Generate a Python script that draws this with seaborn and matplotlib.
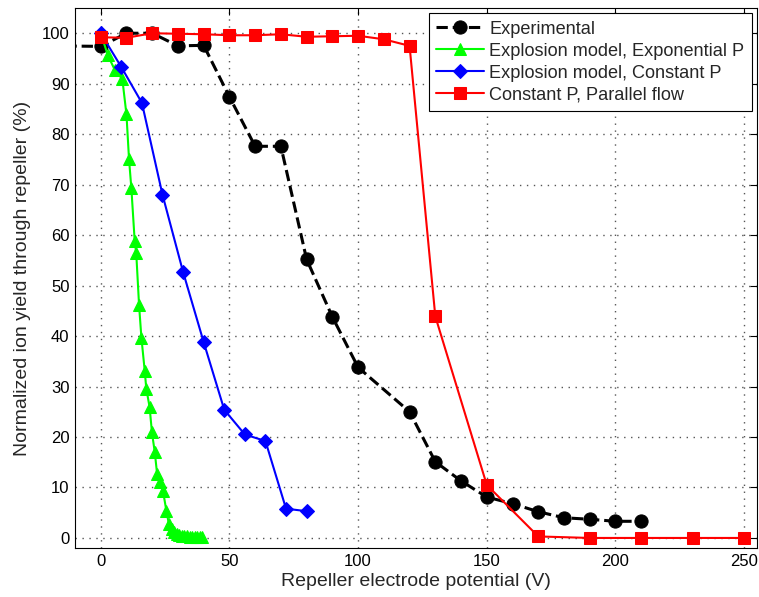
import matplotlib
matplotlib.use("Agg")
import matplotlib.pyplot as plt
import seaborn as sns
import pandas as pd

# Data
exp_x = [-20, 0, 10, 20, 30, 40, 50, 60, 70, 80, 90, 100, 120, 130, 140, 150, 160, 170, 180, 190, 200, 210]
exp_y = [97.5, 97.4, 100, 100, 97.5, 97.6, 87.4, 77.6, 77.6, 55.2, 43.8, 33.8, 25.0, 15.1, 11.3, 8.1, 6.8, 5.2, 4.0, 3.7, 3.3, 3.3]

expo_x = [0, 2.8, 5.4, 8.4, 10, 11, 11.9, 13.2, 13.8, 14.9, 15.8, 17.1, 17.7, 19, 19.9, 21, 21.9, 22.9,
          24.2, 25.5, 26.5, 27.5, 28.5, 29.5, 30.5, 31.5, 32.5, 33.5, 34.5, 35.5, 36.5, 37.5, 38.5, 39.5]
expo_y = [100, 95.6, 92.8, 90.9, 83.9, 75.0, 69.3, 58.8, 56.4, 46.1, 39.7, 33.1, 29.6, 25.9, 20.9, 17.0, 12.7, 11.0,
          9.3, 5.4, 2.7, 1.8, 1.2, 0.8, 0.6, 0.4, 0.3, 0.3, 0.2, 0.2, 0.2, 0.2, 0.2, 0.2]

const_x = [0, 8, 16, 24, 32, 40, 48, 56, 64, 72, 80]
const_y = [100, 93.3, 86.2, 68.0, 52.7, 38.8, 25.4, 20.5, 19.2, 5.8, 5.3]

par_x = [0, 10, 20, 30, 40, 50, 60, 70, 80, 90, 100, 110, 120, 130, 150, 170, 190, 210, 230, 250]
par_y = [99.2, 99.1, 100, 99.9, 99.8, 99.6, 99.6, 99.8, 99.3, 99.4, 99.5, 98.8, 97.5, 43.9, 10.5, 0.3, 0.0, 0.0, 0.0, 0.0]

labels = ["Experimental", "Explosion model, Exponential P", "Explosion model, Constant P", "Constant P, Parallel flow"]

sns.set_style("white")
plt.rcParams['font.family'] = ['Liberation Sans', 'DejaVu Sans']

fig = plt.figure(figsize=(7.59, 5.97), dpi=100)
ax = fig.add_axes([0.0988, 0.082, 0.8986, 0.9046])

sns.lineplot(x=exp_x, y=exp_y, ax=ax, color='black', linestyle='--', linewidth=2.2,
             marker='o', markersize=9.5, markeredgecolor='black', estimator=None, sort=False, label=labels[0])
sns.lineplot(x=expo_x, y=expo_y, ax=ax, color='#00ff00', linewidth=1.5,
             marker='^', markersize=9, markeredgecolor='#00ff00', estimator=None, sort=False, label=labels[1])
sns.lineplot(x=const_x, y=const_y, ax=ax, color='#0000ff', linewidth=1.5,
             marker='D', markersize=7.5, markeredgecolor='#0000ff', estimator=None, sort=False, label=labels[2])
sns.lineplot(x=par_x, y=par_y, ax=ax, color='#ff0000', linewidth=1.5,
             marker='s', markersize=8, markeredgecolor='#ff0000', estimator=None, sort=False, label=labels[3])

ax.set_xlim(-10, 255)
ax.set_ylim(-2, 105)
ax.set_xticks([0, 50, 100, 150, 200, 250])
ax.set_yticks(range(0, 101, 10))
ax.tick_params(direction='in', top=True, right=True, labelsize=12, length=5, width=0.8, colors='black', pad=4)
ax.grid(True, linestyle=(0, (1, 4)), color='#555555', linewidth=1.0)
for s in ax.spines.values():
    s.set_color('black')
    s.set_linewidth(0.8)

ax.set_xlabel("Repeller electrode potential (V)", fontsize=14, labelpad=3)
ax.set_ylabel("Normalized ion yield through repeller (%)", fontsize=14, labelpad=8)

leg = ax.legend(loc='upper right', fontsize=13.1, frameon=True, fancybox=False, handlelength=2.6,
                borderaxespad=0.3, labelspacing=0.27, handletextpad=0.3, borderpad=0.4)
leg.get_frame().set_edgecolor('black')
leg.get_frame().set_linewidth(0.8)
leg.get_frame().set_alpha(1)

fig.savefig("out.png", dpi=100)
